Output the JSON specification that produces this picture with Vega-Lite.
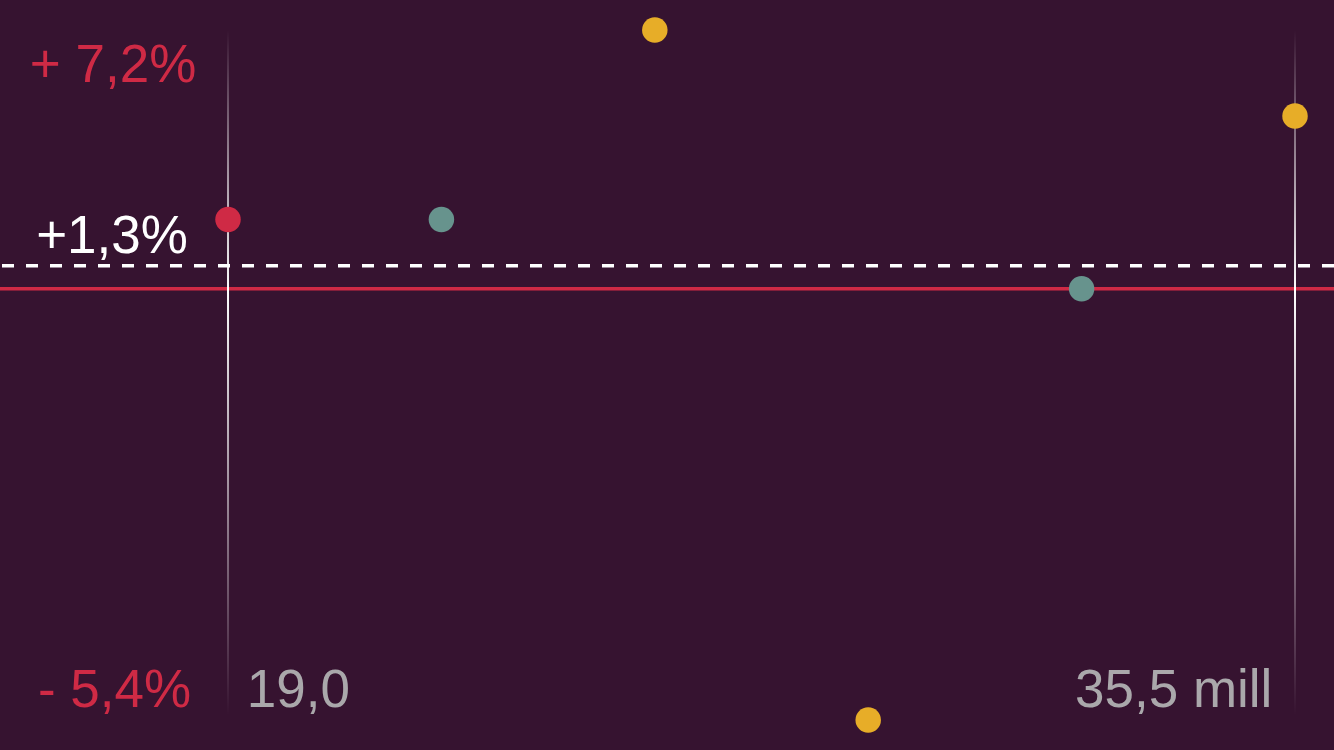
{
  "$schema": "https://vega.github.io/schema/vega-lite/v6.json",
  "width": 1334, "height": 750,
  "autosize": "none",
  "padding": 0,
  "background": "#361330",
  "config": {
    "view": {"stroke": null},
    "axis": {"disable": true},
    "legend": {"disable": true},
    "scale": {"continuousPadding": 0},
    "text": {"font": "Liberation Sans", "fontSize": 53, "baseline": "alphabetic"}
  },
  "layer": [
    {
      "data": {"values": [{"y": 0}]},
      "mark": {"type": "rule", "color": "#cf2a45", "strokeWidth": 3.5},
      "encoding": {
        "y": {"field": "y", "type": "quantitative", "scale": {"domain": [-26.07, 16.32], "nice": false, "zero": false}}
      }
    },
    {
      "data": {"values": [{"y": 1.3}]},
      "mark": {"type": "rule", "color": "#ffffff", "strokeWidth": 3.5, "strokeDash": [12, 12]},
      "encoding": {
        "y": {"field": "y", "type": "quantitative", "scale": {"domain": [-26.07, 16.32], "nice": false, "zero": false}}
      }
    },
    {
      "data": {"values": [
        {"x": 19.0, "top": 14.62, "bottom": -24.1},
        {"x": 35.5, "top": 14.62, "bottom": -24.1}
      ]},
      "mark": {
        "type": "bar", "width": 2,
        "fill": {
          "gradient": "linear", "x1": 0, "y1": 0, "x2": 0, "y2": 1,
          "stops": [
            {"offset": 0, "color": "rgba(255,255,255,0)"},
            {"offset": 0.38, "color": "rgba(255,255,255,1)"},
            {"offset": 1, "color": "rgba(255,255,255,0)"}
          ]
        }
      },
      "encoding": {
        "x": {"field": "x", "type": "quantitative", "scale": {"domain": [15.474, 36.103], "nice": false, "zero": false, "padding": 0}},
        "y": {"field": "top", "type": "quantitative", "scale": {"domain": [-26.07, 16.32], "nice": false, "zero": false}},
        "y2": {"field": "bottom"}
      }
    },
    {
      "data": {"values": [
        {"x": 19.0, "y": 3.92, "group": "selected"},
        {"x": 22.3, "y": 3.92, "group": "other"},
        {"x": 25.6, "y": 14.62, "group": "extreme"},
        {"x": 28.9, "y": -24.38, "group": "extreme"},
        {"x": 32.2, "y": 0, "group": "other"},
        {"x": 35.5, "y": 9.76, "group": "extreme"}
      ]},
      "mark": {"type": "circle", "size": 650, "opacity": 1},
      "encoding": {
        "x": {"field": "x", "type": "quantitative", "scale": {"domain": [15.474, 36.103], "nice": false, "zero": false, "padding": 0}},
        "y": {"field": "y", "type": "quantitative", "scale": {"domain": [-26.07, 16.32], "nice": false, "zero": false}},
        "color": {
          "field": "group", "type": "nominal",
          "scale": {"domain": ["selected", "other", "extreme"], "range": ["#cf2a45", "#67938d", "#e7ad28"]}
        }
      }
    },
    {
      "data": {"values": [
        {"x": 18.51, "y": 11.68, "label": "+ 7,2%", "kind": "change", "side": "right"},
        {"x": 18.38, "y": 2.02, "label": "+1,3%", "kind": "mean", "side": "right"},
        {"x": 18.43, "y": -23.64, "label": "- 5,4%", "kind": "change", "side": "right"},
        {"x": 19.29, "y": -23.64, "label": "19,0", "kind": "size", "side": "left"},
        {"x": 35.15, "y": -23.64, "label": "35,5 mill", "kind": "size", "side": "right"}
      ]},
      "mark": {"type": "text", "align": {"expr": "datum.side"}},
      "encoding": {
        "x": {"field": "x", "type": "quantitative", "scale": {"domain": [15.474, 36.103], "nice": false, "zero": false, "padding": 0}},
        "y": {"field": "y", "type": "quantitative", "scale": {"domain": [-26.07, 16.32], "nice": false, "zero": false}},
        "text": {"field": "label"},
        "color": {
          "field": "kind", "type": "nominal",
          "scale": {"domain": ["change", "mean", "size"], "range": ["#cf2a45", "#ffffff", "#aaa8ab"]}
        }
      }
    }
  ],
  "resolve": {"scale": {"color": "independent"}}
}
